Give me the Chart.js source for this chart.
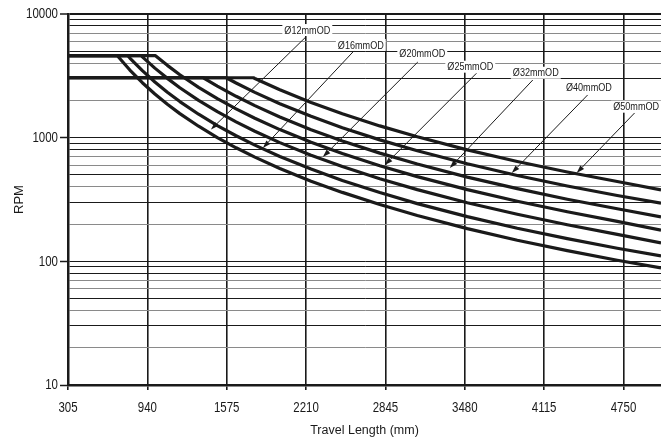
<!DOCTYPE html>
<html>
<head>
<meta charset="utf-8">
<script src="https://cdn.jsdelivr.net/npm/chart.js@4.4.1/dist/chart.umd.min.js"></script>
<style>
  html, body { margin: 0; padding: 0; background: #fff; }
</style>
</head>
<body>
<canvas id="rpmChart" width="661" height="441"></canvas>
<script>
// Valori: corsa (mm) -> giri max (RPM)
const seriesNames = ['Ø12mmOD', 'Ø16mmOD', 'Ø20mmOD', 'Ø25mmOD', 'Ø32mmOD', 'Ø40mmOD', 'Ø50mmOD'];

const od12 = [[305, 4600], [700, 4600], [800, 3522], [900, 2783], [1000, 2254], [1100, 1863], [1200, 1565], [1350, 1237], [1500, 1002], [1650, 828], [1800, 696], [2000, 564], [2250, 445], [2500, 361], [2800, 288], [3100, 235], [3500, 184], [3900, 148], [4300, 122], [4700, 102], [5050, 88.4]];
const od16 = [[305, 4600], [783, 4600], [800, 4406], [900, 3481], [1000, 2820], [1100, 2331], [1200, 1958], [1350, 1547], [1500, 1253], [1650, 1036], [1800, 870], [2000, 705], [2250, 557], [2500, 451], [2800, 360], [3100, 293], [3500, 230], [3900, 185], [4300, 152.5], [4700, 127.7], [5050, 110.6]];
const od20 = [[305, 4600], [891, 4600], [900, 4506], [1000, 3650], [1100, 3017], [1200, 2535], [1350, 2003], [1500, 1622], [1650, 1341], [1800, 1127], [2000, 912], [2250, 721], [2500, 584], [2800, 466], [3100, 380], [3500, 298], [3900, 240], [4300, 197.4], [4700, 165.2], [5050, 141]];
const od25 = [[305, 4600], [1005, 4600], [1100, 3843], [1200, 3229], [1350, 2551], [1500, 2067], [1650, 1708], [1800, 1435], [2000, 1162], [2250, 918], [2500, 744], [2800, 593], [3100, 484], [3500, 380], [3900, 306], [4300, 251.5], [4700, 210.5], [5050, 179]];
const od32 = [[305, 3050], [1388, 3050], [1500, 2613], [1650, 2160], [1800, 1815], [2000, 1470], [2250, 1161], [2500, 941], [2800, 750], [3100, 612], [3500, 480], [3900, 387], [4300, 318], [4700, 266], [5050, 229]];
const od40 = [[305, 3050], [1571, 3050], [1650, 2766], [1800, 2324], [2000, 1882], [2250, 1487], [2500, 1205], [2800, 960], [3100, 784], [3500, 615], [3900, 495], [4300, 407], [4700, 341], [5050, 295.3]];
const od50 = [[305, 3050], [1789, 3050], [1800, 3012], [2000, 2440], [2250, 1928], [2500, 1562], [2800, 1245], [3100, 1016], [3500, 797], [3900, 642], [4300, 528], [4700, 442], [5050, 378]];

const seriesData = [od12, od16, od20, od25, od32, od40, od50];

// Etichette degli assi
const xTickValues = [305, 940, 1575, 2210, 2845, 3480, 4115, 4750];
const yMajorTicks = [10, 100, 1000, 10000];

// Posizione etichette e frecce (in unità dei dati)
const labelLen = [2220, 2648, 3140, 3524, 4048, 4473, 4851];
const labelRpm = [7420, 5620, 4840, 3750, 3350, 2535, 1780];
const arrowFromLen = [2208, 2600, 3104, 3573, 4024, 4463, 4839];
const arrowFromRpm = [6520, 5120, 4090, 3315, 2925, 2215, 1585];
const arrowToLen = [1449, 1864, 2344, 2840, 3360, 3856, 4375];
const arrowToRpm = [1165, 825, 698, 601, 569, 518, 518];

const FONT = "'Liberation Sans', Arial, sans-serif";
Chart.defaults.font.family = FONT;
Chart.defaults.color = '#1a1a1a';

function mantissa(v) {
  return Math.round(v / Math.pow(10, Math.floor(Math.log10(v) + 1e-9)));
}

// Testo "condensed" come nel grafico originale
function drawNarrowText(ctx, text, px, py, align, squeeze) {
  ctx.save();
  ctx.translate(px, py);
  ctx.scale(squeeze, 1);
  ctx.textAlign = align;
  ctx.fillText(text, 0, 0);
  ctx.restore();
}

// Etichette dei tick disegnate strette
const tickLabelPlugin = {
  id: 'tickLabels',
  afterDraw(chart) {
    const { ctx, chartArea, scales: { x, y } } = chart;
    ctx.save();
    ctx.font = '14px ' + FONT;
    ctx.fillStyle = '#1a1a1a';
    ctx.textBaseline = 'middle';
    xTickValues.forEach(v => {
      drawNarrowText(ctx, String(v), x.getPixelForValue(v), chartArea.bottom + 23.5, 'center', 0.82);
    });
    yMajorTicks.forEach(v => {
      drawNarrowText(ctx, String(v), chartArea.left - 10, y.getPixelForValue(v) + 0.5, 'right', 0.82);
    });
    ctx.restore();
  }
};

// Frecce ed etichette dei diametri
const calloutPlugin = {
  id: 'callouts',
  afterDatasetsDraw(chart) {
    const { ctx, scales: { x, y } } = chart;
    ctx.save();
    ctx.strokeStyle = '#1a1a1a';
    ctx.fillStyle = '#1a1a1a';
    ctx.lineWidth = 1;
    for (let i = 0; i < seriesNames.length; i++) {
      const x1 = x.getPixelForValue(arrowFromLen[i]);
      const y1 = y.getPixelForValue(arrowFromRpm[i]);
      const x2 = x.getPixelForValue(arrowToLen[i]);
      const y2 = y.getPixelForValue(arrowToRpm[i]);
      const ang = Math.atan2(y2 - y1, x2 - x1);
      const len = 8, half = 2.6;
      const bx = x2 - Math.cos(ang) * len;
      const by = y2 - Math.sin(ang) * len;
      ctx.beginPath();
      ctx.moveTo(x1, y1);
      ctx.lineTo(bx, by);
      ctx.stroke();
      ctx.beginPath();
      ctx.moveTo(x2, y2);
      ctx.lineTo(bx + Math.sin(ang) * half, by - Math.cos(ang) * half);
      ctx.lineTo(bx - Math.sin(ang) * half, by + Math.cos(ang) * half);
      ctx.closePath();
      ctx.fill();
    }
    ctx.font = '11.5px ' + FONT;
    ctx.textBaseline = 'middle';
    const squeeze = 0.79;
    for (let i = 0; i < seriesNames.length; i++) {
      const lx = x.getPixelForValue(labelLen[i]);
      const ly = y.getPixelForValue(labelRpm[i]);
      const w = ctx.measureText(seriesNames[i]).width * squeeze;
      ctx.fillStyle = '#fff';
      ctx.fillRect(lx - w / 2 - 2, ly - 6, w + 4, 12);
      ctx.fillStyle = '#1a1a1a';
      drawNarrowText(ctx, seriesNames[i], lx, ly + 0.5, 'center', squeeze);
    }
    ctx.restore();
  }
};

new Chart(document.getElementById('rpmChart'), {
  type: 'line',
  data: {
    datasets: seriesData.map((pts, i) => ({
      label: seriesNames[i],
      data: pts.map(p => ({ x: p[0], y: p[1] })),
      borderColor: '#1a1a1a',
      borderWidth: 3.2,
      pointRadius: 0,
      tension: 0,
      fill: false,
      borderJoinStyle: 'round'
    }))
  },
  options: {
    responsive: false,
    animation: false,
    devicePixelRatio: 1,
    layout: { padding: { top: 14, left: 0, right: 0, bottom: 0 } },
    plugins: { legend: { display: false }, tooltip: { enabled: false } },
    scales: {
      x: {
        type: 'linear',
        min: 305,
        max: 5050,
        afterBuildTicks(scale) {
          scale.ticks = xTickValues.map(v => ({ value: v }));
        },
        afterFit(scale) {
          scale.height = 56;
          scale.paddingLeft = 0;
          scale.paddingRight = 0;
        },
        ticks: { display: false, autoSkip: false },
        grid: {
          color: '#1a1a1a',
          lineWidth: 1.6,
          tickLength: 5,
          tickColor: '#1a1a1a',
          tickWidth: 1.6
        },
        border: { display: true, color: '#1a1a1a', width: 2.5 },
        title: {
          display: true,
          text: 'Travel Length (mm)',
          font: { size: 12.5 },
          color: '#1a1a1a',
          padding: { top: 0, bottom: 3 }
        }
      },
      y: {
        type: 'logarithmic',
        min: 10,
        max: 10000,
        afterBuildTicks(scale) {
          const ticks = [];
          yMajorTicks.forEach((base, k) => {
            ticks.push({ value: base, major: true });
            if (k < yMajorTicks.length - 1) {
              for (let m = 2; m <= 9; m++) ticks.push({ value: base * m, major: false });
            }
          });
          scale.ticks = ticks;
        },
        afterFit(scale) {
          scale.width = 68;
          scale.paddingTop = 0;
          scale.paddingBottom = 0;
        },
        ticks: { display: false, autoSkip: false },
        grid: {
          color: ctx => {
            const m = mantissa(ctx.tick.value);
            return [2, 4, 6, 7].includes(m) ? '#8a8a8a' : '#1a1a1a';
          },
          lineWidth: ctx => (ctx.tick.value === 10000 ? 2 : 1),
          tickLength: 8,
          tickColor: ctx => (yMajorTicks.includes(ctx.tick.value) ? '#1a1a1a' : 'rgba(0,0,0,0)'),
          tickWidth: 1.5
        },
        border: { display: true, color: '#1a1a1a', width: 2.5 },
        title: {
          display: true,
          text: 'RPM',
          font: { size: 13 },
          color: '#1a1a1a',
          padding: { top: 12, bottom: 0 }
        }
      }
    }
  },
  plugins: [calloutPlugin, tickLabelPlugin]
});
</script>
</body>
</html>
